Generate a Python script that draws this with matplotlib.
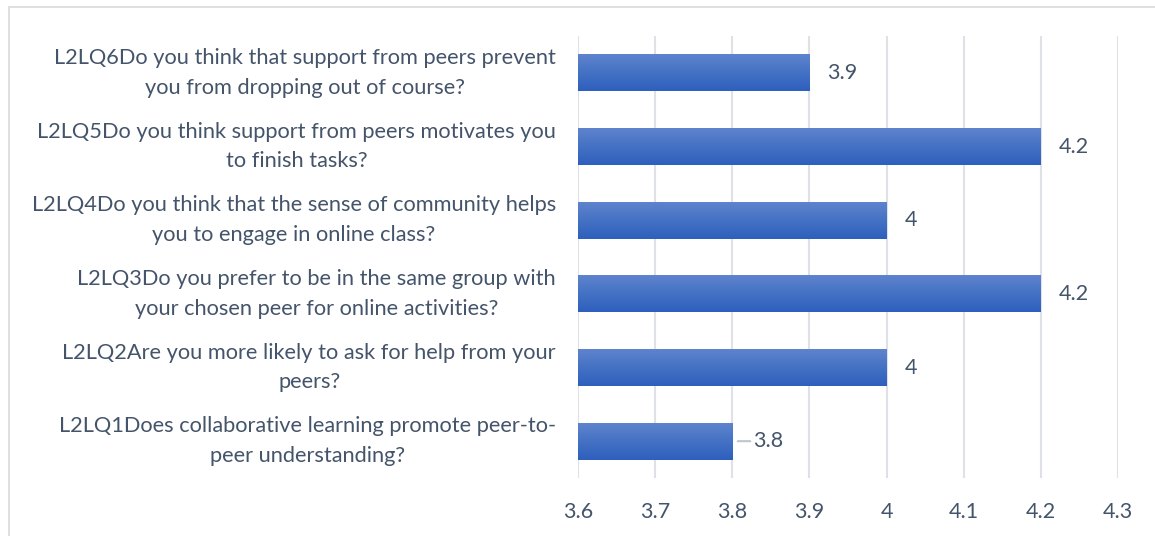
import numpy as np
import matplotlib.pyplot as plt
import matplotlib.transforms as mtransforms
from matplotlib.patches import Rectangle
from matplotlib.colors import LinearSegmentedColormap

plt.rcParams['font.family'] = ['Lato', 'DejaVu Sans']

questions = [
    "L2LQ1Does collaborative learning promote peer-to-\npeer understanding?",
    "L2LQ2Are you more likely to ask for help from your\npeers?",
    "L2LQ3Do you prefer to be in the same group with\nyour chosen peer for online activities?",
    "L2LQ4Do you think that the sense of community helps\nyou to engage in online class?",
    "L2LQ5Do you think support from peers motivates you\nto finish tasks?",
    "L2LQ6Do you think that support from peers prevent\nyou from dropping out of course?",
]
scores = [3.8, 4.0, 4.2, 4.0, 4.2, 3.9]
score_labels = ["3.8", "4", "4.2", "4", "4.2", "3.9"]
xticks = [3.6, 3.7, 3.8, 3.9, 4.0, 4.1, 4.2, 4.3]
xtick_labels = ["3.6", "3.7", "3.8", "3.9", "4", "4.1", "4.2", "4.3"]

text_col = '#44546A'
grid_col = '#DEE1E6'

fig = plt.figure(figsize=(11.55, 5.36), dpi=100)
ax = fig.add_axes([0.5004, 0.1082, 0.4675, 0.8246])

# outer chart border (extends past the right/bottom edges)
fig.patches.append(Rectangle((9 / 1155, -0.05), 1.2, 1 - 7 / 536 + 0.05,
                             transform=fig.transFigure, fill=False,
                             edgecolor='#D9D9D9', linewidth=1.2))

y = np.arange(len(questions))
bars = ax.barh(y, np.array(scores) - 3.6, left=3.6, height=0.5,
               color='#4472C4', zorder=2)

# vertical gradient on each bar
cmap = LinearSegmentedColormap.from_list('blue', ['#2F5FBE', '#4472C4', '#5F83CD'])
grad = np.linspace(0, 1, 100).reshape(-1, 1)
for b in bars:
    b.set_facecolor('none')
    x0, y0, w, h = b.get_x(), b.get_y(), b.get_width(), b.get_height()
    ax.imshow(grad, extent=[x0, x0 + w, y0, y0 + h], origin='lower',
              cmap=cmap, aspect='auto', zorder=2)

for i, (v, lab) in enumerate(zip(scores, score_labels)):
    if i == 0:
        ax.annotate(lab, xy=(v, i), xytext=(15, 0), textcoords='offset points',
                    va='center', ha='left', fontsize=15.5, color=text_col,
                    arrowprops=dict(arrowstyle='-', color='#BFC5CD', lw=1.5,
                                    shrinkA=0, shrinkB=4))
    else:
        ax.annotate(lab, xy=(v, i), xytext=(13, 0), textcoords='offset points',
                    va='center', ha='left', fontsize=15.5, color=text_col)

ax.set_xlim(3.6, 4.3)
ax.set_ylim(-0.5, len(questions) - 0.5)
ax.set_xticks(xticks)
ax.set_xticklabels(xtick_labels, fontsize=15.5, color=text_col)
ax.set_yticks(y)
ax.set_yticklabels([])

# category labels, drawn as text so they can sit centred on the bars
lab_tr = ax.get_yaxis_transform() + mtransforms.ScaledTranslation(
    -0.22, 0.0, fig.dpi_scale_trans)
for i, q in enumerate(questions):
    ax.text(0, i, q, transform=lab_tr, ha='right', va='center',
            multialignment='center', fontsize=15.7, color=text_col,
            linespacing=1.6)

ax.tick_params(axis='both', length=0)
ax.tick_params(axis='x', pad=17)
ax.grid(axis='x', color=grid_col, linewidth=1.5, zorder=0)
ax.set_axisbelow(True)
for s in ax.spines.values():
    s.set_visible(False)

plt.savefig('out.png', dpi=100)
